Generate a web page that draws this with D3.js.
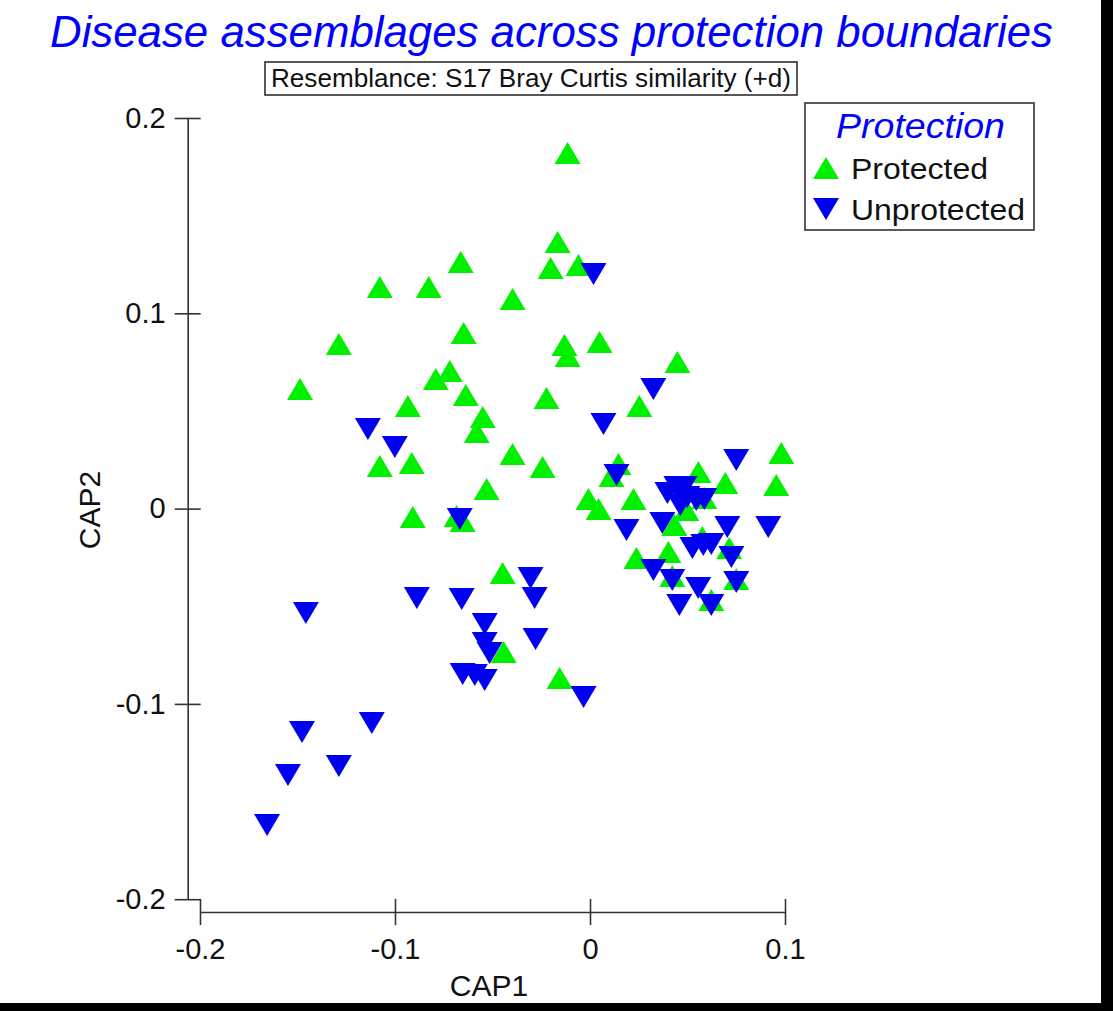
<!DOCTYPE html>
<html>
<head>
<meta charset="utf-8">
<script src="https://cdn.jsdelivr.net/npm/d3@7"></script>
<style>
  html, body { margin: 0; padding: 0; background: #000; }
  svg { display: block; }
  text { font-family: "Liberation Sans", Arial, sans-serif; }
</style>
</head>
<body>
<script>
// CAP ordination scores, one array per protection group: [CAP1, CAP2]
const protectedPts = [
  [-0.0115, 0.1821], [-0.0166, 0.1365], [-0.0202, 0.1232], [-0.0059, 0.1247],
  [-0.0663, 0.1263], [-0.1078, 0.1135], [-0.0827, 0.1135], [-0.0397, 0.1073],
  [-0.0648, 0.0899], [-0.1288, 0.0843], [-0.0131, 0.0838], [-0.0115, 0.0781],
  [0.0049, 0.0853], [0.0448, 0.0751], [-0.1487, 0.0612], [-0.0791, 0.0664],
  [-0.0719, 0.0705], [-0.0637, 0.0582], [-0.0934, 0.0525], [-0.0223, 0.0566],
  [0.0253, 0.0525], [-0.0550, 0.0469], [-0.0581, 0.0392], [-0.1078, 0.0218],
  [-0.0914, 0.0233], [-0.0397, 0.0280], [-0.0243, 0.0213], [-0.0530, 0.0100],
  [-0.0909, -0.0043], [-0.0684, -0.0038], [-0.0653, -0.0063], [0.0146, 0.0228],
  [0.0110, 0.0167], [-0.0008, 0.0049], [0.0044, -0.0002], [0.0223, 0.0049],
  [0.0556, 0.0187], [0.0694, 0.0131], [0.0981, 0.0285], [0.0955, 0.0121],
  [0.0586, 0.0054], [0.0494, -0.0007], [0.0433, -0.0084], [0.0576, -0.0145],
  [0.0714, -0.0202], [0.0402, -0.0222], [0.0238, -0.0253], [0.0422, -0.0345],
  [0.0750, -0.0360], [0.0622, -0.0468], [-0.0448, -0.0330], [-0.0443, -0.0734],
  [-0.0156, -0.0867]
];

const unprotectedPts = [
  [0.0018, 0.1201], [0.0325, 0.0612], [0.0069, 0.0433], [-0.1139, 0.0408],
  [-0.1001, 0.0315], [0.0750, 0.0249], [0.0136, 0.0172], [-0.0668, -0.0053],
  [0.0397, 0.0080], [0.0443, 0.0111], [0.0484, 0.0111], [0.0499, 0.0059],
  [0.0545, 0.0044], [0.0586, 0.0049], [0.0463, 0.0018], [0.0371, -0.0074],
  [0.0187, -0.0110], [0.0704, -0.0094], [0.0914, -0.0094], [0.0525, -0.0202],
  [0.0581, -0.0186], [0.0622, -0.0181], [0.0725, -0.0248], [0.0325, -0.0314],
  [0.0422, -0.0366], [0.0555, -0.0407], [0.0750, -0.0376], [0.0458, -0.0494],
  [0.0622, -0.0494], [-0.0305, -0.0355], [-0.0284, -0.0458], [-0.0888, -0.0458],
  [-0.0658, -0.0463], [-0.1457, -0.0535], [-0.0540, -0.0591], [-0.0540, -0.0688],
  [-0.0515, -0.0739], [-0.0279, -0.0668], [-0.0653, -0.0847], [-0.0591, -0.0852],
  [-0.0540, -0.0878], [-0.0033, -0.0965], [-0.1477, -0.1144], [-0.1119, -0.1098],
  [-0.1549, -0.1364], [-0.1288, -0.1318], [-0.1656, -0.1620]
];

const xTicks = [-0.2, -0.1, 0, 0.1];
const yTicks = [-0.2, -0.1, 0, 0.1, 0.2];
const groups = ["Protected", "Unprotected"];
const groupColors = ["#00f000", "#0000f0"];

const W = 1113, H = 1011;
const svg = d3.select("body").append("svg").attr("width", W).attr("height", H);

// page: white sheet with dark frame on right and bottom
svg.append("rect").attr("width", W).attr("height", H).attr("fill", "#000");
svg.append("rect").attr("x", 0).attr("y", 0).attr("width", 1101).attr("height", 1003).attr("fill", "#fff");

const x = d3.scaleLinear().domain([-0.2, 0.1]).range([200, 785]);
const y = d3.scaleLinear().domain([-0.2, 0.2]).range([899.2, 118]);

const fmt = d => d === 0 ? "0" : String(d);
const axisColor = "#333";

// x axis
const gx = svg.append("g").attr("transform", "translate(0,912)")
  .call(d3.axisBottom(x).tickValues(xTicks).tickFormat(fmt).tickSize(13).tickSizeOuter(0).tickPadding(13));
gx.select(".domain").attr("stroke", axisColor).attr("stroke-width", 1.6);
gx.selectAll(".tick line").attr("y1", -13).attr("stroke", axisColor).attr("stroke-width", 1.6);
gx.selectAll(".tick text").attr("font-size", 29).attr("fill", "#111")
  .attr("font-family", "'Liberation Sans', Arial, sans-serif");

// y axis
const gy = svg.append("g").attr("transform", "translate(187.7,0)")
  .call(d3.axisLeft(y).tickValues(yTicks).tickFormat(fmt).tickSize(13).tickSizeOuter(0).tickPadding(9));
gy.select(".domain").attr("stroke", axisColor).attr("stroke-width", 1.6);
gy.selectAll(".tick line").attr("x1", 13).attr("stroke", axisColor).attr("stroke-width", 1.6);
gy.selectAll(".tick text").attr("font-size", 29).attr("fill", "#111")
  .attr("font-family", "'Liberation Sans', Arial, sans-serif");

// axis titles
svg.append("text").attr("x", 489).attr("y", 996).attr("text-anchor", "middle")
  .attr("font-size", 30).attr("fill", "#111").text("CAP1");
svg.append("text").attr("transform", "translate(100,510) rotate(-90)").attr("text-anchor", "middle")
  .attr("font-size", 30).attr("fill", "#111").text("CAP2");

// triangle markers centred on the point
const TW = 26, TH = 22;
const triUp = `M0,${-TH / 2}L${TW / 2},${TH / 2}L${-TW / 2},${TH / 2}Z`;
const triDown = `M0,${TH / 2}L${TW / 2},${-TH / 2}L${-TW / 2},${-TH / 2}Z`;

svg.append("g").selectAll("path").data(protectedPts).join("path")
  .attr("d", triUp).attr("fill", groupColors[0])
  .attr("transform", d => `translate(${x(d[0])},${y(d[1])})`);

svg.append("g").selectAll("path").data(unprotectedPts).join("path")
  .attr("d", triDown).attr("fill", groupColors[1])
  .attr("transform", d => `translate(${x(d[0])},${y(d[1])})`);

// title and resemblance caption
svg.append("text").attr("x", 551.5).attr("y", 47).attr("text-anchor", "middle")
  .attr("font-size", 44).attr("font-style", "italic").attr("fill", "#0000ff")
  .attr("textLength", 1003).attr("lengthAdjust", "spacingAndGlyphs")
  .text("Disease assemblages across protection boundaries");

svg.append("rect").attr("x", 265).attr("y", 62).attr("width", 532).attr("height", 33)
  .attr("fill", "#fff").attr("stroke", "#222").attr("stroke-width", 1.5);
svg.append("text").attr("x", 531).attr("y", 87).attr("text-anchor", "middle")
  .attr("font-size", 26).attr("fill", "#111")
  .attr("textLength", 520).attr("lengthAdjust", "spacingAndGlyphs")
  .text("Resemblance: S17 Bray Curtis similarity (+d)");

// legend
const lg = svg.append("g");
lg.append("rect").attr("x", 805).attr("y", 103).attr("width", 229).attr("height", 127)
  .attr("fill", "#fff").attr("stroke", "#333").attr("stroke-width", 1.6);
lg.append("text").attr("x", 920.5).attr("y", 138).attr("text-anchor", "middle")
  .attr("font-size", 35).attr("font-style", "italic").attr("fill", "#0000ff")
  .attr("textLength", 169).attr("lengthAdjust", "spacingAndGlyphs")
  .text("Protection");
const itemLen = [137, 174];
groups.forEach((g, i) => {
  const cy = 168 + i * 41;
  lg.append("path").attr("d", i === 0 ? triUp : triDown)
    .attr("fill", groupColors[i]).attr("transform", `translate(826,${cy})`);
  lg.append("text").attr("x", 851).attr("y", cy + 11).attr("font-size", 30).attr("fill", "#111")
    .attr("textLength", itemLen[i]).attr("lengthAdjust", "spacingAndGlyphs").text(g);
});
</script>
</body>
</html>
